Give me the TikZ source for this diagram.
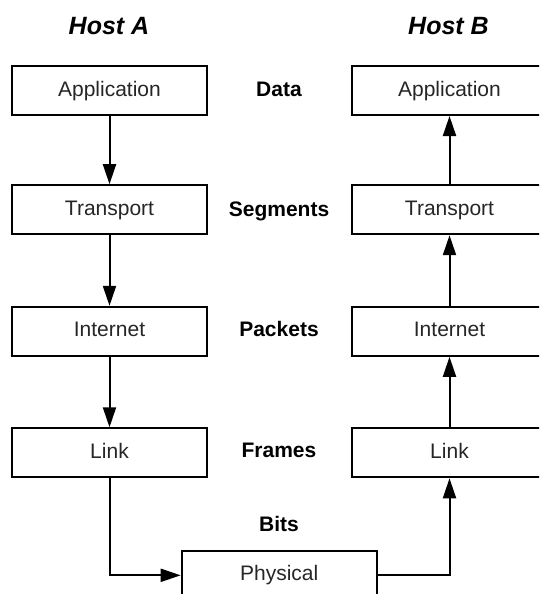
\documentclass[tikz,border=0pt]{standalone}
\usepackage{fontspec}
\setmainfont{Liberation Sans}
\usetikzlibrary{arrows.meta}

\tikzset{
  layer/.style={draw=black, line width=2pt, minimum width=195pt, minimum height=49pt,
    inner sep=0pt, text height=15pt, text depth=4pt, font=\fontsize{21}{24}\selectfont,
    text=black!85},
  unit/.style={anchor=base, font=\bfseries\fontsize{21}{24}\selectfont},
  host/.style={anchor=base, font=\bfseries\itshape\fontsize{25}{28}\selectfont},
  flow/.style={line width=2pt, -{Triangle[length=20pt,width=13pt]}}
}

\begin{document}
\begin{tikzpicture}[x=1pt, y=-1pt]
  \clip (0,0) rectangle (539,594);
  \fill[white] (0,0) rectangle (539,594);

  % column titles
  \node[host] (hA) at (109,35) {Host A};
  \node[host] (hB) at (448.5,35) {Host B};

  % sending stack
  \node[layer] (appA) at (109.5,90.5)  {Application};
  \node[layer] (trA)  at (109.5,209.7) {Transport};
  \node[layer] (inA)  at (109.5,331.3) {Internet};
  \node[layer] (lkA)  at (109.5,452.8) {Link};

  % receiving stack
  \node[layer] (appB) at (449.5,90.5)  {Application};
  \node[layer] (trB)  at (449.5,209.7) {Transport};
  \node[layer] (inB)  at (449.5,331.3) {Internet};
  \node[layer] (lkB)  at (449.5,452.8) {Link};

  % shared medium
  \node[layer] (phy) at (279.2,575.3) {Physical};

  % data units per layer
  \node[unit] (uData) at (279,96)    {Data};
  \node[unit] (uSeg)  at (279,216)   {Segments};
  \node[unit] (uPkt)  at (279,336.5) {Packets};
  \node[unit] (uFrm)  at (279,457)   {Frames};
  \node[unit] (uBit)  at (279,531)   {Bits};

  % down the sender
  \draw[flow] (appA) -- (trA);
  \draw[flow] (trA) -- (inA);
  \draw[flow] (inA) -- (lkA);
  \draw[flow] (lkA.south) |- (phy.west);

  % up the receiver
  \draw[flow] (phy.east) -| (lkB.south);
  \draw[flow] (lkB) -- (inB);
  \draw[flow] (inB) -- (trB);
  \draw[flow] (trB) -- (appB);
\end{tikzpicture}
\end{document}
